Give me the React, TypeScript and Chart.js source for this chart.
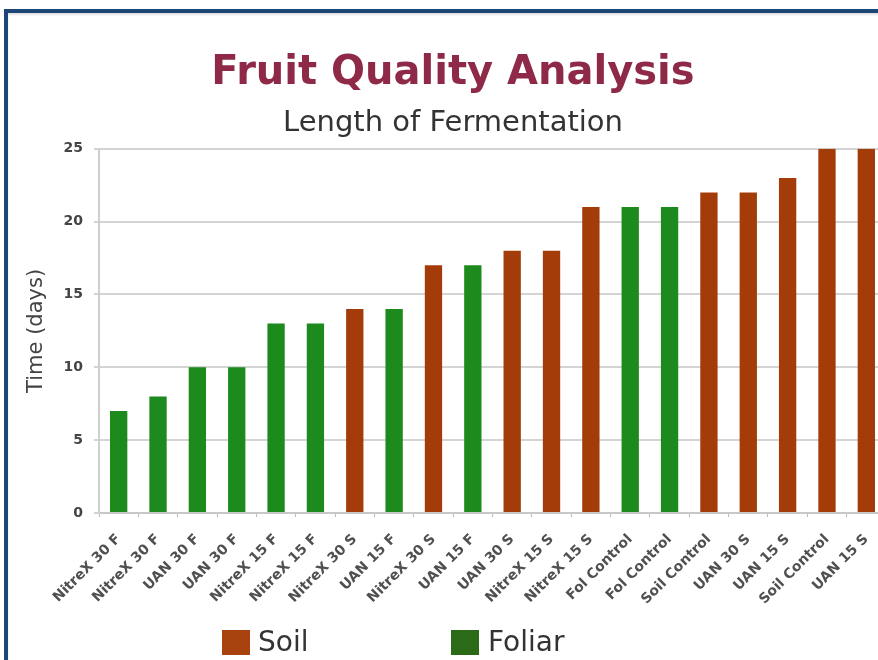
import React, { useEffect, useRef } from "react";
import { Chart, registerables } from "chart.js";

Chart.register(...registerables);

const categories = [
  "NitreX 30 F", "NitreX 30 F", "UAN 30 F", "UAN 30 F", "NitreX 15 F",
  "NitreX 15 F", "NitreX 30 S", "UAN 15 F", "NitreX 30 S", "UAN 15 F",
  "UAN 30 S", "NitreX 15 S", "NitreX 15 S", "Fol Control", "Fol Control",
  "Soil Control", "UAN 30 S", "UAN 15 S", "Soil Control", "UAN 15 S",
];
const fermentationDays = [7, 8, 10, 10, 13, 13, 14, 14, 17, 17, 18, 18, 21, 21, 21, 22, 22, 23, 25, 25];
const application = [
  "Foliar", "Foliar", "Foliar", "Foliar", "Foliar",
  "Foliar", "Soil", "Foliar", "Soil", "Foliar",
  "Soil", "Soil", "Soil", "Foliar", "Foliar",
  "Soil", "Soil", "Soil", "Soil", "Soil",
];
const seriesNames = ["Soil", "Foliar"];
const yTicks = [0, 5, 10, 15, 20, 25];

const BAR_COLORS: Record<string, string> = { Soil: "#a33c08", Foliar: "#1c8a1c" };
const LEGEND_COLORS: Record<string, string> = { Soil: "#a8420f", Foliar: "#2b6a16" };
const FONT = "'DejaVu Sans', Verdana, sans-serif";

export default function App() {
  const canvasRef = useRef<HTMLCanvasElement | null>(null);

  useEffect(() => {
    const canvas = canvasRef.current;
    if (!canvas) return;
    const chart = new Chart(canvas, {
      type: "bar",
      data: {
        labels: categories,
        datasets: [
          {
            label: "Length of Fermentation",
            data: fermentationDays,
            backgroundColor: application.map((a) => BAR_COLORS[a]),
            borderWidth: 0,
            barPercentage: 0.44,
            categoryPercentage: 1,
          },
        ],
      },
      options: {
        responsive: false,
        animation: false,
        devicePixelRatio: 1,
        layout: { padding: { left: 20, right: 17, top: 0, bottom: 47 } },
        plugins: {
          legend: { display: false },
          tooltip: { enabled: false },
          title: {
            display: true,
            text: "Fruit Quality Analysis",
            color: "#8e2a48",
            font: { family: FONT, size: 40, weight: "bold" },
            padding: { top: 50, bottom: 0 },
          },
          subtitle: {
            display: true,
            text: "Length of Fermentation",
            color: "#333333",
            font: { family: FONT, size: 29, weight: "normal" },
            padding: { top: 8, bottom: 8 },
          },
        },
        scales: {
          x: {
            afterFit: (scale: any) => {
              scale.height = 100;
            },
            grid: {
              display: true,
              drawOnChartArea: false,
              drawTicks: true,
              tickLength: 4,
              color: "#bbbbbb",
              offset: true,
            },
            border: { display: true, color: "#c8c8c8", width: 2 },
            ticks: {
              autoSkip: false,
              minRotation: 45,
              maxRotation: 45,
              padding: 14,
              color: "#505050",
              font: { family: FONT, size: 14, weight: "bold" },
            },
          },
          y: {
            min: 0,
            max: 25,
            afterFit: (scale: any) => {
              scale.width = 79;
            },
            afterBuildTicks: (scale: any) => {
              scale.ticks = yTicks.map((v) => ({ value: v }));
            },
            grid: {
              color: "#d4d4d4",
              lineWidth: 2,
              drawTicks: true,
              tickLength: 5,
            },
            border: { display: true, color: "#cfcfcf", width: 2 },
            ticks: {
              padding: 11,
              color: "#444444",
              font: { family: FONT, size: 14, weight: "bold" },
            },
            title: {
              display: true,
              text: "Time (days)",
              color: "#444444",
              font: { family: FONT, size: 21, weight: "normal" },
              padding: { top: 4, bottom: 0 },
            },
          },
        },
      },
    });
    return () => chart.destroy();
  }, []);

  const legendItems = [
    { name: seriesNames[0], box: 222, text: 258 },
    { name: seriesNames[1], box: 451, text: 488 },
  ];

  return (
    <div
      style={{
        position: "fixed",
        left: 0,
        top: 0,
        width: 878,
        height: 660,
        overflow: "hidden",
        background: "#ffffff",
      }}
    >
      <canvas
        ref={canvasRef}
        width={903}
        height={660}
        style={{ position: "absolute", left: 0, top: 0, width: 903, height: 660 }}
      />
      <div
        style={{
          position: "absolute",
          left: 4,
          top: 9,
          width: 1000,
          height: 1000,
          borderLeft: "4px solid #1c4677",
          borderTop: "4px solid #1c4677",
          boxShadow: "inset 0 2px 2px rgba(0,0,0,0.12)",
          pointerEvents: "none",
        }}
      />
      {legendItems.map((it) => (
        <React.Fragment key={it.name}>
          <div
            style={{
              position: "absolute",
              left: it.box,
              top: 630,
              width: 28,
              height: 25,
              background: LEGEND_COLORS[it.name],
            }}
          />
          <div
            style={{
              position: "absolute",
              left: it.text,
              top: 624,
              height: 36,
              lineHeight: "36px",
              fontFamily: FONT,
              fontSize: 28,
              color: "#333333",
            }}
          >
            {it.name}
          </div>
        </React.Fragment>
      ))}
    </div>
  );
}
